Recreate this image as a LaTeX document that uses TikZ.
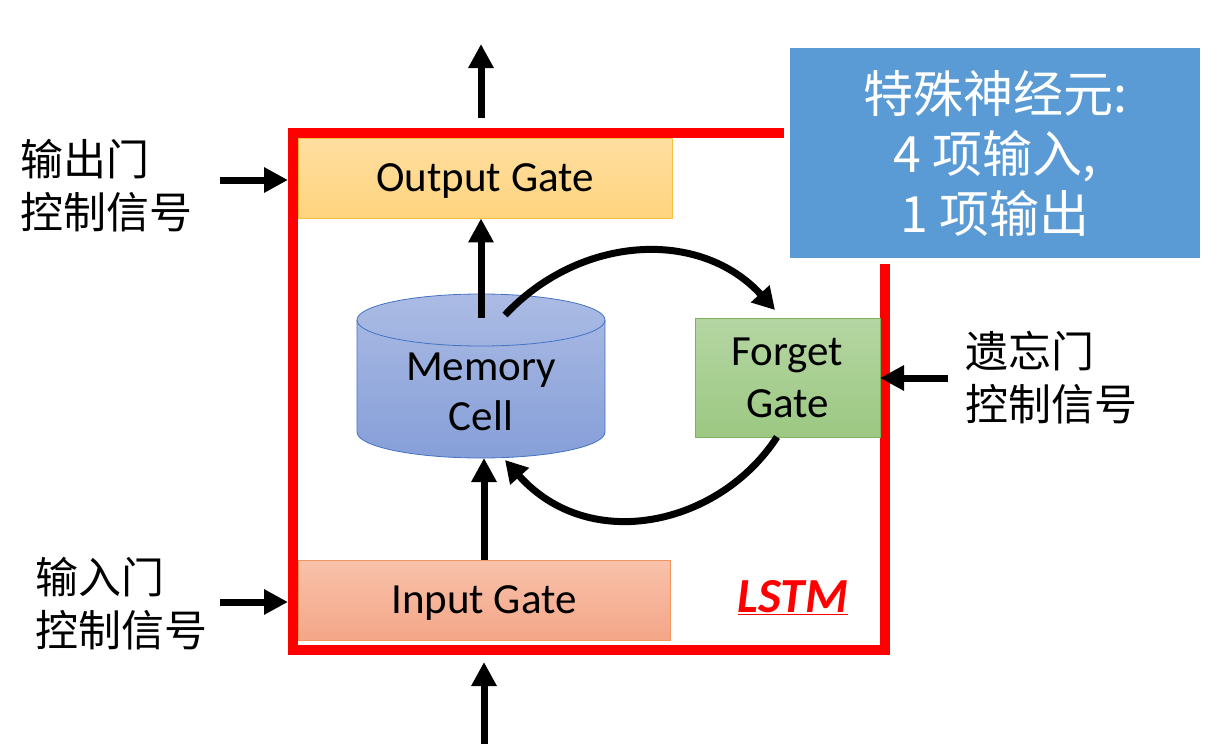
\documentclass[tikz,border=0pt]{standalone}
\usepackage{fontspec}
\setmainfont{Carlito}
\newfontfamily\cjk{Noto Sans CJK SC}
\usetikzlibrary{arrows.meta}
\definecolor{frame}{HTML}{FF0000}
\definecolor{blbox}{HTML}{5B9BD5}
\definecolor{ogtop}{HTML}{FFDEA0}
\definecolor{ogbot}{HTML}{FFD47E}
\definecolor{ogline}{HTML}{F5C040}
\definecolor{igtop}{HTML}{F8C2AA}
\definecolor{igbot}{HTML}{F4A688}
\definecolor{igline}{HTML}{F2945E}
\definecolor{fgtop}{HTML}{B5D6A3}
\definecolor{fgbot}{HTML}{9CC882}
\definecolor{fgline}{HTML}{7FB05E}
\definecolor{mctop}{HTML}{ABBBE4}
\definecolor{mcbot}{HTML}{869FD8}
\definecolor{mcline}{HTML}{4472C4}
\tikzset{
  gate/.style={rectangle, line width=0.8pt, font=\fontsize{43}{50}\selectfont, align=center, inner sep=0pt},
  big/.style={line width=7pt, -{Triangle[length=24pt,width=24pt]}},
  curv/.style={line width=7pt, -{Triangle[length=22pt,width=24pt]}},
  lab/.style={anchor=west, align=left, inner sep=0pt, font=\cjk\fontsize{43}{53}\selectfont}
}
\begin{document}
\begin{tikzpicture}[x=1pt,y=1pt]
\useasboundingbox (0,0) rectangle (1222,-744);
% red frame
\draw[frame, line width=10pt] (293,-133) rectangle (885,-650);
% blue box
\node[fill=blbox, draw=white, line width=6pt, minimum width=416pt, minimum height=216pt, inner sep=0pt,
  text=white, align=center, font=\cjk\fontsize{50}{60}\selectfont] (info) at (995,-153)
  {特殊神经元:\\4 项输入,\\1 项输出};
% gates
\node[gate, text depth=0pt, draw=ogline, top color=ogtop, bottom color=ogbot, minimum width=374pt, minimum height=80pt] (og) at (485,-178) {Output Gate};
\node[gate, text depth=0pt, draw=igline, top color=igtop, bottom color=igbot, minimum width=372pt, minimum height=80pt] (ig) at (484,-600) {Input Gate};
\node[gate, draw=fgline, top color=fgtop, bottom color=fgbot, minimum width=185pt, minimum height=119pt, font=\fontsize{43}{52}\selectfont] (fg) at (787.5,-377.5) {Forget\\Gate};
% memory cylinder
\shade[top color=mctop, bottom color=mcbot, draw=mcline, line width=0.8pt]
  (357,-320) -- (357,-432) arc[start angle=180,end angle=360,x radius=124pt,y radius=26pt]
  -- (605,-320) arc[start angle=0,end angle=180,x radius=124pt,y radius=26pt] -- cycle;
\draw[mcline, line width=0.8pt] (357,-320) arc[start angle=180,end angle=360,x radius=124pt,y radius=26pt];
\node[align=center, inner sep=0pt, font=\fontsize{43}{50}\selectfont] (mem) at (481,-392) {Memory\\Cell};
\coordinate (memtop) at (481,-318);
\coordinate (membot) at (484,-458);
\coordinate (memr) at (505,-315);
\coordinate (memrb) at (505,-460);
% external coordinates
\coordinate (topout) at (481,-118);
\coordinate (topend) at (481,-44);
\coordinate (botin) at (484,-744);
\coordinate (botend) at (484,-662);
% labels
\node[lab] (ol) at (20,-186) {输出门\\控制信号};
\node[lab] (il) at (35,-604) {输入门\\控制信号};
\node[lab] (fl) at (965,-378) {遗忘门\\控制信号};
\node[anchor=center, inner sep=0pt, text=frame, font=\fontsize{49}{56}\selectfont\bfseries\itshape] (lstm) at (793,-598) {\underline{LSTM}};
% arrows
\draw[big] (topout) -- (topend);
\draw[big] (memtop) -- (memtop |- og.south);
\draw[big] (ig.north) -- (membot);
\draw[big] (botin) -- (botend);
\coordinate (olend) at (288,-180);
\coordinate (ilend) at (288,-602);
\coordinate (flend) at (880,-378);
\draw[big] (220,-180) -- (olend);
\draw[big] (220,-602) -- (ilend);
\draw[big] (948,-378) -- (flend);
\draw[curv] (memr) .. controls (580,-235) and (700,-228) .. (775,-310);
\draw[curv] (777,-437) .. controls (720,-525) and (590,-555) .. (memrb);
\end{tikzpicture}
\end{document}
